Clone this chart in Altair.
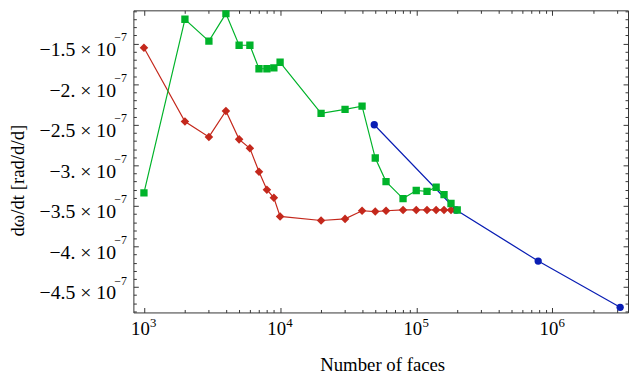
import altair as alt
import pandas as pd

# ---- data (values in rad/d/d) ----
red_x = [1000, 2000, 3000, 4000, 5000, 6000, 7000, 8000, 9000, 10000, 20000, 30000,
         40000, 50000, 60000, 80000, 100000, 120000, 140000, 160000, 180000]
red_y = [-1.55, -2.46, -2.65, -2.33, -2.68, -2.79, -3.08, -3.30, -3.40, -3.63, -3.68, -3.66,
         -3.56, -3.57, -3.56, -3.55, -3.55, -3.55, -3.55, -3.55, -3.55]

green_x = [1000, 2000, 3000, 4000, 5000, 6000, 7000, 8000, 9000, 10000, 20000, 30000,
           40000, 50000, 60000, 80000, 100000, 120000, 140000, 160000, 180000, 200000]
green_y = [-3.34, -1.20, -1.47, -1.13, -1.52, -1.52, -1.81, -1.81, -1.80, -1.73, -2.36, -2.31,
           -2.27, -2.91, -3.20, -3.41, -3.31, -3.32, -3.27, -3.36, -3.47, -3.55]

blue_x = [49152, 196608, 786432, 3145728]
blue_y = [-2.50, -3.55, -4.18, -4.75]

SCALE = 1e-7
x_major = [1e3, 1e4, 1e5, 1e6]
x_minor = [k * 10 ** d for d in range(3, 7) for k in range(2, 10) if k * 10 ** d < 3.59e6]
y_major = [-1.5, -2.0, -2.5, -3.0, -3.5, -4.0, -4.5]
y_minor = [-(11 + i) / 10 for i in range(38) if (11 + i) % 5 != 0]

x_title = "Number of faces"
y_title = "dω/dt [rad/d/d]"

def frame(xs, ys, name):
    return pd.DataFrame({"x": xs, "y": [v * SCALE for v in ys], "s": name})

df_red = frame(red_x, red_y, "red")
df_green = frame(green_x, green_y, "green")
df_blue = frame(blue_x, blue_y, "blue")

FONT = "Liberation Serif"
TC = "#333333"
xs = alt.Scale(type="log", domain=[836.4, 3.593e6], nice=False)
ys = alt.Scale(domain=[-4.813e-7, -1.090e-7], nice=False, zero=False)

def series(df, color, shape, size):
    base = alt.Chart(df).encode(
        x=alt.X("x:Q", scale=xs, axis=None),
        y=alt.Y("y:Q", scale=ys, axis=None),
    )
    line = base.mark_line(color=color, strokeWidth=1.2, clip=True)
    pts = base.mark_point(shape=shape, size=size, filled=True, color=color, opacity=1, clip=True)
    return line + pts

def ax_layer(xaxis=None, yaxis=None):
    return alt.Chart(df_red).mark_point(opacity=0).encode(
        x=alt.X("x:Q", scale=xs, axis=xaxis),
        y=alt.Y("y:Q", scale=ys, axis=yaxis),
    )

common = dict(domain=False, grid=False, tickColor=TC, labelFont=FONT, labelColor="black",
              labelOverlap=False, labelFlush=False)

mant_expr = ("(round(datum.value*1e8) % 10 == 0 ? '−' + abs(round(datum.value*1e8))/10 + '.'"
             " : '−' + format(abs(datum.value*1e7), '.1f')) + ' × 10'")

layers = [
    series(df_blue, "#0A1EB4", "circle", 55),
    series(df_red, "#C4281C", "diamond", 75),
    series(df_green, "#00B32A", "square", 55),
    # bottom
    ax_layer(xaxis=alt.Axis(orient="bottom", values=x_major, offset=-5, tickSize=5, labels=True,
                            labelExpr="'10'", labelFontSize=19, labelBaseline="alphabetic",
                            labelPadding=22, labelOffset=-4, title=None, **common)),
    ax_layer(xaxis=alt.Axis(orient="bottom", values=x_minor, offset=-3, tickSize=3, labels=False,
                            title=None, **common)),
    ax_layer(xaxis=alt.Axis(orient="bottom", values=x_major, ticks=False, labels=True,
                            labelExpr="'' + round(log(datum.value)/LN10)", labelFontSize=13,
                            labelBaseline="alphabetic", labelPadding=14, labelOffset=9,
                            title=x_title, titleFont=FONT, titleFontSize=19, titleFontWeight="normal",
                            titleColor="black", titleX=252, titleY=59, titleBaseline="alphabetic",
                            titleAlign="center", **common)),
    # top
    ax_layer(xaxis=alt.Axis(orient="top", values=x_major, offset=-5, tickSize=5, labels=False,
                            title=None, **common)),
    ax_layer(xaxis=alt.Axis(orient="top", values=x_minor, offset=-3, tickSize=3, labels=False,
                            title=None, **common)),
    # left
    ax_layer(yaxis=alt.Axis(orient="left", values=[v * SCALE for v in y_major], offset=-5, tickSize=5,
                            labels=True, labelExpr=mant_expr, labelFontSize=20,
                            labelBaseline="alphabetic", labelPadding=18, labelOffset=12,
                            labelAlign="right", title=None, **common)),
    ax_layer(yaxis=alt.Axis(orient="left", values=[v * SCALE for v in y_minor], offset=-3, tickSize=3,
                            labels=False, title=None, **common)),
    ax_layer(yaxis=alt.Axis(orient="left", values=[v * SCALE for v in y_major], ticks=False,
                            labels=True, labelExpr="'−7'", labelFontSize=12,
                            labelBaseline="alphabetic", labelPadding=7, labelOffset=-3,
                            labelAlign="right",
                            title=y_title, titleFont=FONT, titleFontSize=19, titleFontWeight="normal",
                            titleColor="black", titleX=-117, titleY=172, titleAngle=-90,
                            titleBaseline="middle", titleAlign="center", **common)),
    # right
    ax_layer(yaxis=alt.Axis(orient="right", values=[v * SCALE for v in y_major], offset=-5, tickSize=5,
                            labels=False, title=None, **common)),
    ax_layer(yaxis=alt.Axis(orient="right", values=[v * SCALE for v in y_minor], offset=-3, tickSize=3,
                            labels=False, title=None, **common)),
]

chart = alt.layer(*layers).resolve_axis(x="independent", y="independent").properties(
    width=501, height=306,
    autosize=alt.AutoSizeParams(type="none"),
    padding={"left": 127, "top": 0, "right": 1, "bottom": 63},
    background="white",
).configure_view(stroke=TC, strokeWidth=1)

chart.save("out.html", embed_options={"renderer": "svg", "actions": False})
